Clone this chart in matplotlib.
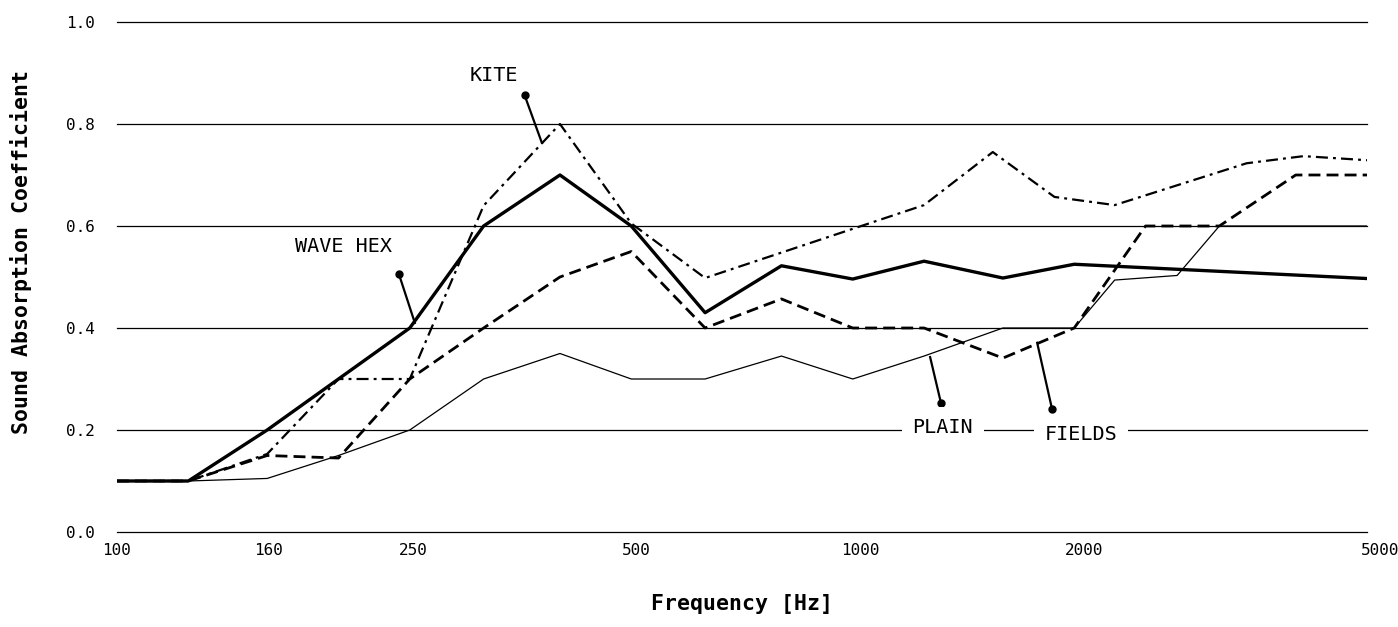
import matplotlib
matplotlib.use("Agg")
import matplotlib.pyplot as plt
import matplotlib.transforms as mtransforms
import numpy as np
from matplotlib.ticker import NullLocator, FixedLocator, FixedFormatter

plt.rcParams['font.family'] = ['DejaVu Sans Mono', 'DejaVu Sans']

# ---- data ----
wave_hex_f = [100, 125, 160, 200, 250, 315, 400, 500, 630, 800, 1000, 1250, 1600, 2000, 5000]
wave_hex_v = [0.10, 0.10, 0.20, 0.30, 0.40, 0.60, 0.70, 0.60, 0.43, 0.522, 0.496, 0.531, 0.498, 0.525, 0.497]

kite_f = [100, 125, 160, 200, 250, 315, 400, 500, 630, 1250, 1550, 1880, 2270, 3430, 4100, 5000]
kite_v = [0.10, 0.10, 0.153, 0.30, 0.30, 0.64, 0.80, 0.605, 0.498, 0.641, 0.745, 0.657, 0.641, 0.723, 0.737, 0.729]

fields_f = [100, 125, 160, 200, 250, 315, 400, 500, 630, 800, 1000, 1250, 1600, 2000, 2500, 3150, 4000, 5000]
fields_v = [0.10, 0.10, 0.15, 0.145, 0.30, 0.40, 0.50, 0.55, 0.40, 0.457, 0.40, 0.40, 0.341, 0.40, 0.60, 0.60, 0.70, 0.70]

plain_f = [100, 125, 160, 200, 250, 315, 400, 500, 630, 800, 1000, 1250, 1600, 2000, 2270, 2760, 3150, 5000]
plain_v = [0.10, 0.10, 0.105, 0.15, 0.20, 0.30, 0.35, 0.30, 0.30, 0.345, 0.30, 0.345, 0.40, 0.40, 0.494, 0.503, 0.60, 0.60]

xticks = [100, 160, 250, 500, 1000, 2000, 5000]
xtick_labels = ['100', '160', '250', '500', '1000', '2000', '5000']
yticks = [0.0, 0.2, 0.4, 0.6, 0.8, 1.0]
ytick_labels = ['0.0', '0.2', '0.4', '0.6', '0.8', '1.0']

# annotation layout: (label, text pos, dot pos, line end pos, boxed)
annotations = [
    ('KITE', (325, 0.896), (358, 0.857), (378, 0.763), False),
    ('WAVE HEX', (203, 0.559), (241.6, 0.506), (254, 0.41), False),
    ('PLAIN', (1326, 0.204), (1318, 0.253), (1274, 0.343), True),
    ('FIELDS', (2043, 0.192), (1866, 0.241), (1781, 0.371), True),
]

# ---- figure ----
W, H = 1398, 627
fig = plt.figure(figsize=(W / 100, H / 100), dpi=100)
ax_w_px = 1367 - 117
ax = fig.add_axes([117 / W, 1 - 532 / H, ax_w_px / W, (532 - 22) / H])

ax.set_xscale('log')
ax.set_xlim(100, 5000)
ax.set_ylim(0, 1)

for s in ax.spines.values():
    s.set_visible(False)

ax.xaxis.set_major_locator(FixedLocator(xticks))
ax.xaxis.set_major_formatter(FixedFormatter(xtick_labels))
ax.xaxis.set_minor_locator(NullLocator())
ax.set_yticks(yticks)
ax.set_yticklabels(ytick_labels)
ax.tick_params(axis='both', length=0, labelsize=11.5, colors='black')
ax.tick_params(axis='x', pad=8)
ax.tick_params(axis='y', pad=16)

# tick labels in the reference sit on a slightly wider scale than the plot area
span = np.log10(5000 / 100)
for t, lab in zip(xticks, ax.get_xticklabels()):
    frac = np.log10(t / 100) / span
    dx_px = frac * 13.0
    lab.set_transform(lab.get_transform() +
                      mtransforms.ScaledTranslation(dx_px / 100, 0, fig.dpi_scale_trans))

ax.yaxis.grid(True, color='black', linewidth=0.9)
ax.xaxis.grid(False)
ax.set_axisbelow(True)
for gl in ax.get_ygridlines():
    gl.set_clip_on(False)

lw_dash = 2.0
lw_dd = 1.6
ax.plot(plain_f, plain_v, color='black', lw=0.9, zorder=3)
ax.plot(fields_f, fields_v, color='black', lw=lw_dash, dashes=(4.3, 2.2), zorder=3)
ax.plot(kite_f, kite_v, color='black', lw=lw_dd, dashes=(5.4, 2.3, 1.3, 2.3), zorder=3)
ax.plot(wave_hex_f, wave_hex_v, color='black', lw=2.4, zorder=4)

for label, tpos, dpos, epos, boxed in annotations:
    ax.plot([dpos[0], epos[0]], [dpos[1], epos[1]], color='black', lw=1.6, zorder=5, clip_on=False)
    ax.plot([dpos[0]], [dpos[1]], 'o', color='black', ms=5, zorder=5, clip_on=False)
    kw = {}
    if boxed:
        kw['bbox'] = dict(facecolor='white', edgecolor='none', pad=8)
    ax.text(tpos[0], tpos[1], label, ha='center', va='center', fontsize=14.5,
            color='black', zorder=6, **kw)

ax.set_xlabel('Frequency [Hz]', fontsize=15.5, fontweight='bold', labelpad=26)
ax.set_ylabel('Sound Absorption Coefficient', fontsize=15.5, fontweight='bold')
ax.yaxis.set_label_coords(-0.068, 0.55)

fig.savefig('out.png', dpi=100, facecolor='white')
